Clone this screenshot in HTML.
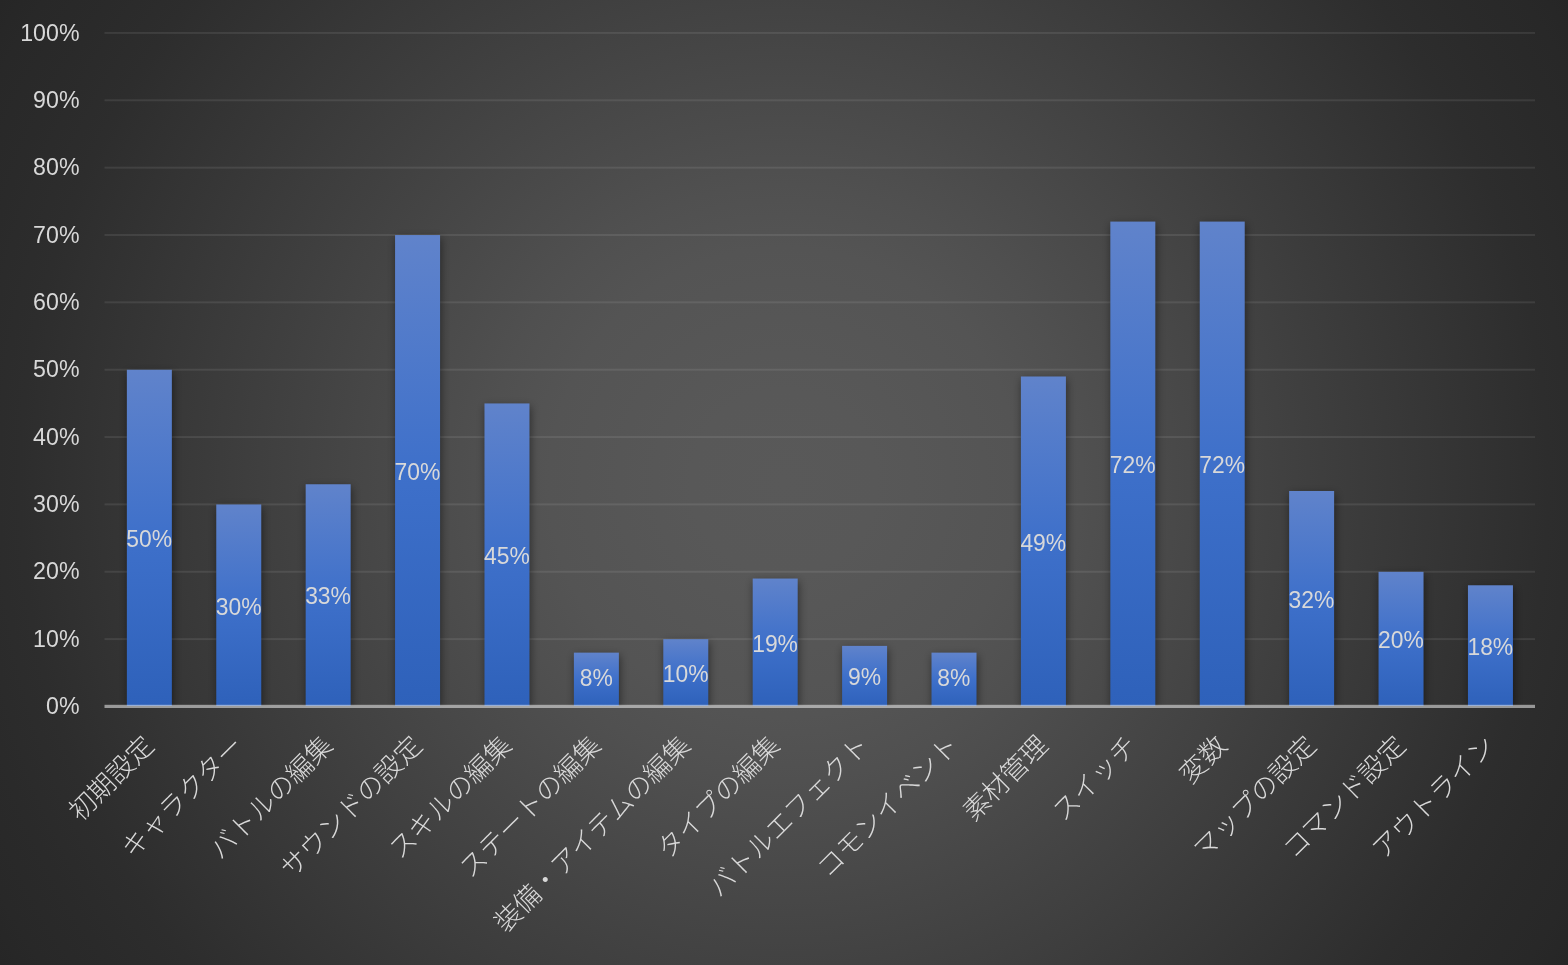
<!DOCTYPE html>
<html lang="ja"><head><meta charset="utf-8"><title>chart</title>
<style>
html,body{margin:0;padding:0;}
body{width:1568px;height:965px;overflow:hidden;background:#262626;}
#chart{position:relative;width:1568px;height:965px;overflow:hidden;background:radial-gradient(circle farthest-corner at 50% 50%,rgb(89,89,89) 0.0%,rgb(88,88,88) 10.0%,rgb(86,86,86) 18.0%,rgb(84,84,84) 25.5%,rgb(80,80,80) 32.4%,rgb(45,45,45) 83.0%,rgb(42,42,42) 90.0%,rgb(40,40,40) 96.0%,rgb(38,38,38) 100.0%);}
svg{position:absolute;left:0;top:0;display:block;}
.yl,.dl{font-family:"Liberation Sans",sans-serif;fill:#d9d9d9;}
.yl{font-size:23.7px;text-anchor:end;}
.dl{font-size:23.7px;text-anchor:middle;}
.cl{font-family:"Liberation Sans","Noto Sans CJK JP",sans-serif;font-weight:300;font-size:26.67px;fill:#d9d9d9;text-anchor:end;}
</style></head><body>
<div id="chart">
<svg width="1568" height="965" viewBox="0 0 1568 965">
<defs>
<linearGradient id="bg" x1="0" y1="0" x2="0" y2="1"><stop offset="0" stop-color="#6083cb"/><stop offset="0.5" stop-color="#3e70ca"/><stop offset="1" stop-color="#2e61ba"/></linearGradient>
<filter id="sh" x="-40%" y="-10%" width="180%" height="120%" color-interpolation-filters="sRGB"><feGaussianBlur in="SourceAlpha" stdDeviation="4"/><feOffset dx="1" dy="2.5" result="b"/><feComponentTransfer><feFuncA type="linear" slope="0.47"/></feComponentTransfer><feMerge><feMergeNode/><feMergeNode in="SourceGraphic"/></feMerge></filter>
<clipPath id="plot"><rect x="0" y="0" width="1568" height="706.00"/></clipPath>
</defs>
<g fill="#ffffff" fill-opacity="0.085">
<rect x="104.5" y="638.10" width="1430.5" height="2"/>
<rect x="104.5" y="570.75" width="1430.5" height="2"/>
<rect x="104.5" y="503.40" width="1430.5" height="2"/>
<rect x="104.5" y="436.05" width="1430.5" height="2"/>
<rect x="104.5" y="368.70" width="1430.5" height="2"/>
<rect x="104.5" y="301.35" width="1430.5" height="2"/>
<rect x="104.5" y="234.00" width="1430.5" height="2"/>
<rect x="104.5" y="166.65" width="1430.5" height="2"/>
<rect x="104.5" y="99.30" width="1430.5" height="2"/>
<rect x="104.5" y="31.95" width="1430.5" height="2"/>
</g>
<g clip-path="url(#plot)"><g filter="url(#sh)" fill="url(#bg)">
<rect x="126.85" y="369.75" width="45.00" height="336.75"/>
<rect x="216.26" y="504.45" width="45.00" height="202.05"/>
<rect x="305.66" y="484.25" width="45.00" height="222.25"/>
<rect x="395.07" y="235.05" width="45.00" height="471.45"/>
<rect x="484.48" y="403.43" width="45.00" height="303.07"/>
<rect x="573.88" y="652.62" width="45.00" height="53.88"/>
<rect x="663.29" y="639.15" width="45.00" height="67.35"/>
<rect x="752.69" y="578.53" width="45.00" height="127.97"/>
<rect x="842.10" y="645.88" width="45.00" height="60.62"/>
<rect x="931.51" y="652.62" width="45.00" height="53.88"/>
<rect x="1020.91" y="376.48" width="45.00" height="330.02"/>
<rect x="1110.32" y="221.58" width="45.00" height="484.92"/>
<rect x="1199.72" y="221.58" width="45.00" height="484.92"/>
<rect x="1289.13" y="490.98" width="45.00" height="215.52"/>
<rect x="1378.54" y="571.80" width="45.00" height="134.70"/>
<rect x="1467.94" y="585.27" width="45.00" height="121.23"/>
</g></g>
<rect x="104.5" y="704.8" width="1430.5" height="3.2" fill="#f2f2f2" fill-opacity="0.54"/>
<g class="yl" opacity="0.999">
<text transform="translate(79.5,714.10) scale(0.978,1)">0%</text>
<text transform="translate(79.5,646.75) scale(0.978,1)">10%</text>
<text transform="translate(79.5,579.40) scale(0.978,1)">20%</text>
<text transform="translate(79.5,512.05) scale(0.978,1)">30%</text>
<text transform="translate(79.5,444.70) scale(0.978,1)">40%</text>
<text transform="translate(79.5,377.35) scale(0.978,1)">50%</text>
<text transform="translate(79.5,310.00) scale(0.978,1)">60%</text>
<text transform="translate(79.5,242.65) scale(0.978,1)">70%</text>
<text transform="translate(79.5,175.30) scale(0.978,1)">80%</text>
<text transform="translate(79.5,107.95) scale(0.978,1)">90%</text>
<text transform="translate(79.5,40.60) scale(0.978,1)">100%</text>
</g>
<g class="dl" opacity="0.999">
<text transform="translate(149.20,547.23) scale(0.965,1)">50%</text>
<text transform="translate(238.61,614.58) scale(0.965,1)">30%</text>
<text transform="translate(328.02,604.47) scale(0.965,1)">33%</text>
<text transform="translate(417.42,479.88) scale(0.965,1)">70%</text>
<text transform="translate(506.83,564.06) scale(0.965,1)">45%</text>
<text transform="translate(596.23,686.10) scale(0.965,1)">8%</text>
<text transform="translate(685.64,681.93) scale(0.965,1)">10%</text>
<text transform="translate(775.05,651.62) scale(0.965,1)">19%</text>
<text transform="translate(864.45,685.29) scale(0.965,1)">9%</text>
<text transform="translate(953.86,686.10) scale(0.965,1)">8%</text>
<text transform="translate(1043.27,550.59) scale(0.965,1)">49%</text>
<text transform="translate(1132.67,473.14) scale(0.965,1)">72%</text>
<text transform="translate(1222.08,473.14) scale(0.965,1)">72%</text>
<text transform="translate(1311.48,607.84) scale(0.965,1)">32%</text>
<text transform="translate(1400.89,648.25) scale(0.965,1)">20%</text>
<text transform="translate(1490.30,654.99) scale(0.965,1)">18%</text>
</g>
<g class="cl" opacity="0.999">
<text transform="translate(148.80,740.40) rotate(-45)" dy="0.36em">初期設定</text>
<text transform="translate(238.21,740.40) rotate(-45)" dy="0.36em">キャラクター</text>
<text transform="translate(327.62,740.40) rotate(-45)" dy="0.36em">バトルの編集</text>
<text transform="translate(417.02,740.40) rotate(-45)" dy="0.36em">サウンドの設定</text>
<text transform="translate(506.43,740.40) rotate(-45)" dy="0.36em">スキルの編集</text>
<text transform="translate(595.83,740.40) rotate(-45)" dy="0.36em">ステートの編集</text>
<text transform="translate(685.24,740.40) rotate(-45)" dy="0.36em">装備・アイテムの編集</text>
<text transform="translate(774.65,740.40) rotate(-45)" dy="0.36em">タイプの編集</text>
<text transform="translate(864.05,740.40) rotate(-45)" dy="0.36em">バトルエフェクト</text>
<text transform="translate(953.46,740.40) rotate(-45)" dy="0.36em">コモンイベント</text>
<text transform="translate(1042.87,740.40) rotate(-45)" dy="0.36em">素材管理</text>
<text transform="translate(1132.27,740.40) rotate(-45)" dy="0.36em">スイッチ</text>
<text transform="translate(1221.68,740.40) rotate(-45)" dy="0.36em">変数</text>
<text transform="translate(1311.08,740.40) rotate(-45)" dy="0.36em">マップの設定</text>
<text transform="translate(1400.49,740.40) rotate(-45)" dy="0.36em">コマンド設定</text>
<text transform="translate(1489.90,740.40) rotate(-45)" dy="0.36em">アウトライン</text>
</g>
</svg></div></body></html>
